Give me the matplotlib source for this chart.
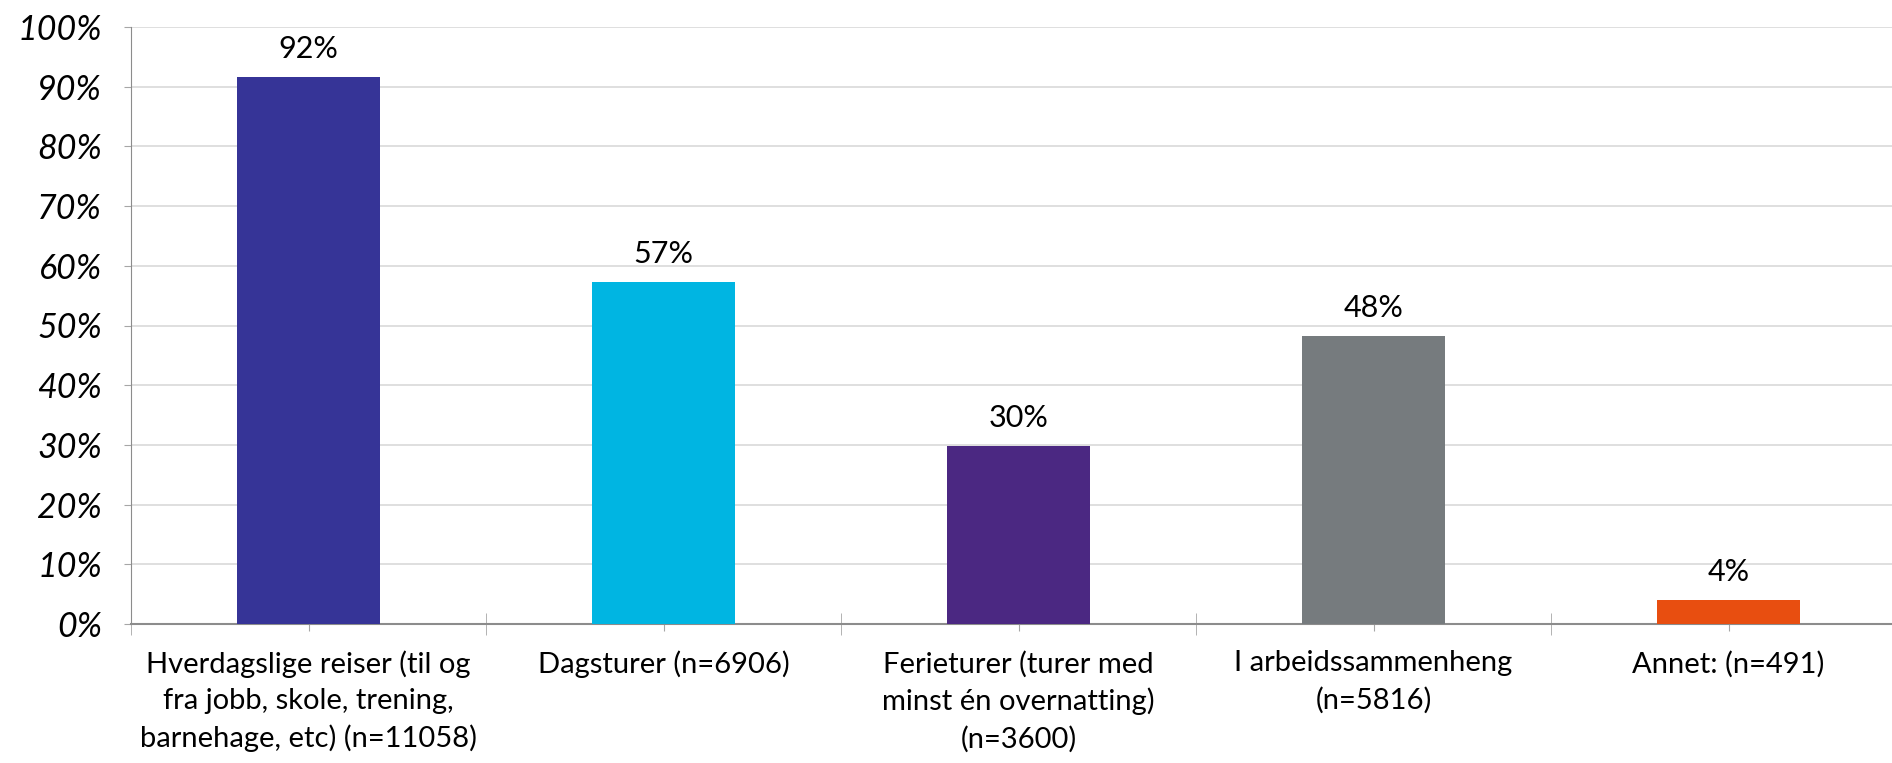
import matplotlib
matplotlib.use("Agg")
import matplotlib.pyplot as plt
from matplotlib.ticker import FixedLocator, PercentFormatter

categories = [
    "Hverdagslige reiser (til og\nfra jobb, skole, trening,\nbarnehage, etc) (n=11058)",
    "Dagsturer (n=6906)",
    "Ferieturer (turer med\nminst én overnatting)\n(n=3600)",
    "I arbeidssammenheng\n(n=5816)",
    "Annet: (n=491)",
]
values = [91.6, 57.3, 29.8, 48.3, 4.1]
colors = ["#363497", "#00B5E2", "#4B2882", "#767B7E", "#E84E10"]
y_ticks = list(range(0, 101, 10))

plt.rcParams["font.family"] = ["Lato", "DejaVu Sans"]

fig = plt.figure(figsize=(18.92, 7.63), dpi=100)
ax = fig.add_axes([131 / 1892, 139 / 763, 1775 / 1892, 597 / 763])

x = list(range(len(categories)))
bars = ax.bar(x, values, width=0.405, color=colors, zorder=3)

for xi, v in zip(x, values):
    ax.annotate(f"{v:.0f}%", (xi, v), xytext=(0, 10), textcoords="offset points",
                ha="center", va="bottom", fontsize=22)

ax.set_xlim(-0.5, len(categories) - 0.5)
ax.set_ylim(0, 100)
ax.set_yticks(y_ticks)
ax.yaxis.set_major_formatter(PercentFormatter(decimals=0))
for lbl in ax.get_yticklabels():
    lbl.set_fontstyle("italic")
ax.tick_params(axis="y", labelsize=24.5, length=5, color="#A6A6A6", pad=16)
ax.yaxis.grid(True, color="#D9D9D9", linewidth=1.2, zorder=0)

ax.set_xticks(x)
ax.set_xticklabels(categories, fontsize=21, linespacing=1.47)
ax.xaxis.set_minor_locator(FixedLocator([i - 0.5 for i in range(len(categories) + 1)]))
ax.tick_params(axis="x", which="major", direction="inout", length=10, color="#A6A6A6", pad=14)
ax.tick_params(axis="x", which="minor", direction="inout", length=16, color="#A6A6A6")

for side in ["top", "right"]:
    ax.spines[side].set_visible(False)
ax.spines["left"].set_color("#8C8C8C")
ax.spines["bottom"].set_color("#8C8C8C")
ax.spines["bottom"].set_linewidth(1.5)

fig.savefig("out.png", dpi=100)
